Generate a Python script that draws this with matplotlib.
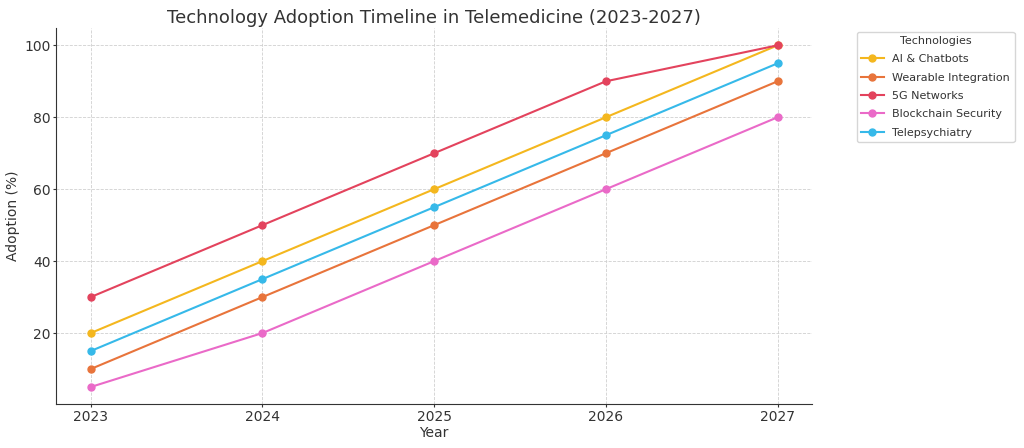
import matplotlib
matplotlib.use("Agg")
from matplotlib import pyplot as plt

years = [2023, 2024, 2025, 2026, 2027]
ai_chatbots = [20, 40, 60, 80, 100]
wearable = [10, 30, 50, 70, 90]
networks_5g = [30, 50, 70, 90, 100]
blockchain = [5, 20, 40, 60, 80]
telepsych = [15, 35, 55, 75, 95]

series = [
    ("AI & Chatbots", ai_chatbots, "#f4b71e"),
    ("Wearable Integration", wearable, "#e8743b"),
    ("5G Networks", networks_5g, "#e3435d"),
    ("Blockchain Security", blockchain, "#ea6ac8"),
    ("Telepsychiatry", telepsych, "#36b9e9"),
]

txt = "#333333"
plt.rcParams["text.color"] = txt
plt.rcParams["axes.labelcolor"] = txt
plt.rcParams["xtick.color"] = txt
plt.rcParams["ytick.color"] = txt

fig, ax = plt.subplots(figsize=(10.24, 4.48), dpi=100)
fig.subplots_adjust(left=0.055, right=0.793, top=0.937, bottom=0.098)

for name, vals, col in series:
    ax.plot(years, vals, marker="o", markersize=5, linewidth=1.5, color=col, label=name)

ax.set_title("Technology Adoption Timeline in Telemedicine (2023-2027)", fontsize=13, color=txt, pad=4)
ax.set_xlabel("Year", fontsize=10, labelpad=2)
ax.set_ylabel("Adoption (%)", fontsize=10, labelpad=3)
ax.set_xticks(years)
ax.tick_params(labelsize=10, length=2.5, pad=1.5)
ax.grid(True, linestyle="--", linewidth=0.6, color="#d0d0d0")
ax.spines["top"].set_visible(False)
ax.spines["right"].set_visible(False)
ax.spines["left"].set_color(txt)
ax.spines["bottom"].set_color(txt)

leg = ax.legend(title="Technologies", loc="upper left", bbox_to_anchor=(1.052, 1.006),
                fontsize=8, title_fontsize=8, labelspacing=0.75)

fig.savefig("out.png", dpi=100)
